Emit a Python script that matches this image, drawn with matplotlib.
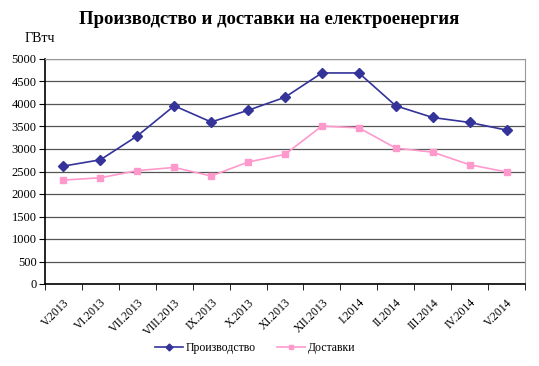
import matplotlib
matplotlib.use("Agg")
import matplotlib.pyplot as plt
import numpy as np

categories = ["V.2013", "VI.2013", "VII.2013", "VIII.2013", "IX.2013", "X.2013",
              "XI.2013", "XII.2013", "I.2014", "II.2014", "III.2014", "IV.2014", "V.2014"]
production = [2620, 2760, 3290, 3960, 3600, 3860, 4150, 4690, 4690, 3960, 3700, 3590, 3420]
deliveries = [2310, 2360, 2520, 2590, 2400, 2710, 2880, 3510, 3470, 3020, 2930, 2650, 2490]
yticks = [0, 500, 1000, 1500, 2000, 2500, 3000, 3500, 4000, 4500, 5000]

plt.rcParams['font.family'] = ['Liberation Serif', 'DejaVu Serif']

fig = plt.figure(figsize=(5.39, 3.66), dpi=100)
ax = fig.add_axes([45/539, 1-284/366, 480/539, 225/366])

x = np.arange(len(categories))
ax.plot(x, production, color='#333399', marker='D', markersize=5, lw=1.2, label='Производство')
ax.plot(x, deliveries, color='#FF99CC', marker='s', markersize=5, lw=1.2, label='Доставки')

ax.set_xlim(-0.5, len(categories) - 0.5)
ax.set_ylim(0, 5000)
ax.set_yticks(yticks)
ax.set_yticklabels([str(v) for v in yticks], fontsize=9)
ax.yaxis.grid(True, color='#555555', lw=0.9)
ax.set_axisbelow(True)

ax.set_xticks(x)
ax.set_xticklabels(categories, rotation=45, ha='right', rotation_mode='anchor', fontsize=8.5)
ax.tick_params(axis='x', length=0, pad=9)
ax.set_xticks(np.arange(-0.5, len(categories)), minor=True)
ax.tick_params(axis='x', which='minor', length=4, direction='out', color='black')
ax.tick_params(axis='y', length=4, direction='out', color='black', pad=2)

for s in ['top', 'right']:
    ax.spines[s].set_color('#999999')
for s in ['left', 'bottom']:
    ax.spines[s].set_color('black')
    ax.spines[s].set_linewidth(1.2)

fig.text(0.5, 1-20/366, 'Производство и доставки на електроенергия', ha='center', va='center',
         fontsize=13.5, fontweight='bold')
fig.text(40/539, 1-38/366, 'ГВтч', ha='center', va='center', fontsize=10)

fig.legend(loc='center', bbox_to_anchor=(255/539, 1-348/366), ncol=2, frameon=False, fontsize=8.5,
           handlelength=2.4, handletextpad=0.2, columnspacing=1.8, markerscale=0.7)

fig.savefig('out.png', dpi=100, facecolor='white')
